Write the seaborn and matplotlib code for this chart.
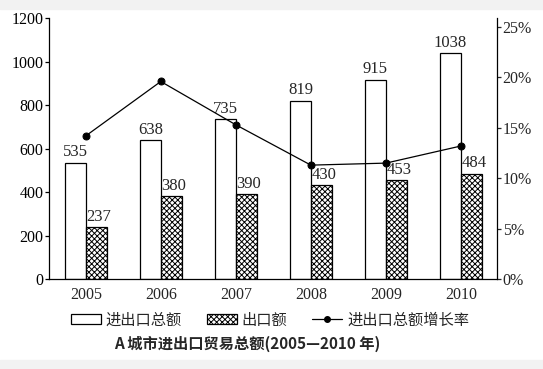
import numpy as np
import pandas as pd
import matplotlib
matplotlib.use('Agg')
import matplotlib.pyplot as plt
import seaborn as sns
from matplotlib.patches import Patch, Rectangle
from matplotlib.lines import Line2D

years = ['2005', '2006', '2007', '2008', '2009', '2010']
total = [535, 638, 735, 819, 915, 1038]
export = [237, 380, 390, 430, 453, 484]
growth = [14.2, 19.6, 15.3, 11.3, 11.5, 13.2]

S_TOTAL = '进出口总额'
S_EXPORT = '出口额'
S_GROWTH = '进出口总额增长率'

df = pd.DataFrame({
    'year': years * 2,
    'value': total + export,
    'series': [S_TOTAL] * len(years) + [S_EXPORT] * len(years),
})

sns.set_style('ticks')
plt.rcParams['font.family'] = ['Liberation Serif', 'Noto Sans CJK SC', 'DejaVu Sans']
plt.rcParams['hatch.linewidth'] = 0.7

fig = plt.figure(figsize=(5.43, 3.69), dpi=100)
fig.patch.set_facecolor('white')
# light grey bands at the very top and bottom of the image
fig.add_artist(Rectangle((0, 0.975), 1, 0.025, transform=fig.transFigure,
                         color='#f2f2f2', zorder=0))
fig.add_artist(Rectangle((0, 0), 1, 0.025, transform=fig.transFigure,
                         color='#f2f2f2', zorder=0))

ax = fig.add_axes([0.0902, 0.2439, 0.8251, 0.7073])
sns.barplot(data=df, x='year', y='value', hue='series', ax=ax,
            palette=['white', 'white'], edgecolor='black', linewidth=0.9,
            width=0.56, gap=0, legend=False)

n = len(years)
for i, p in enumerate(ax.patches[:2 * n]):
    if i >= n:
        p.set_hatch('xxxxxx')

ax.set_ylim(0, 1200)
ax.set_xlim(-0.49, 5.48)
ax.set_yticks(range(0, 1201, 200))
ax.set_xlabel('')
ax.set_ylabel('')
ax.tick_params(axis='y', length=3, width=0.9, pad=1, labelsize=11.5, colors='black')
ax.tick_params(axis='x', length=0, pad=6, labelsize=11.5)
for s in ['top', 'right']:
    ax.spines[s].set_visible(False)
for s in ['left', 'bottom']:
    ax.spines[s].set_linewidth(0.9)
    ax.spines[s].set_color('black')

w = 0.28
for i in range(n):
    ax.text(i - w / 2, total[i] + 12, str(total[i]), ha='center', va='bottom',
            fontsize=12, family='Liberation Serif')
    ax.text(i + 0.01, export[i] + 12, str(export[i]), ha='left', va='bottom',
            fontsize=12, family='Liberation Serif')

ax2 = ax.twinx()
sns.lineplot(x=np.arange(n), y=growth, ax=ax2, color='black', linewidth=0.9,
             marker='o', markersize=5, markeredgecolor='black')
ax2.set_ylim(0, 25.9)
ax2.set_yticks(range(0, 26, 5))
ax2.set_yticklabels([f'{v}%' for v in range(0, 26, 5)])
ax2.tick_params(axis='y', length=3, width=0.9, pad=1, labelsize=11.5)
ax2.spines['top'].set_visible(False)
ax2.spines['left'].set_visible(False)
ax2.spines['bottom'].set_visible(False)
ax2.spines['right'].set_linewidth(0.9)
ax2.spines['right'].set_color('black')

handles = [
    Patch(facecolor='white', edgecolor='black', linewidth=0.9, label=S_TOTAL),
    Patch(facecolor='white', edgecolor='black', linewidth=0.9, hatch='xxxxxx', label=S_EXPORT),
    Line2D([0], [0], color='black', linewidth=0.9, marker='o', markersize=4, label=S_GROWTH),
]
fig.legend(handles=handles, loc='center', bbox_to_anchor=(0.497, 0.133), ncol=3,
           frameon=False, prop={'family': ['Noto Sans CJK SC'], 'size': 11},
           handlelength=2.0, handleheight=0.6, handletextpad=0.3, columnspacing=1.6,
           borderpad=0)

fig.text(0.456, 0.068, 'A 城市进出口贸易总额(2005—2010 年)', ha='center', va='center',
         fontsize=11, fontweight='bold', family=['Noto Sans CJK SC', 'DejaVu Sans'])

fig.savefig('out.png', dpi=100)
